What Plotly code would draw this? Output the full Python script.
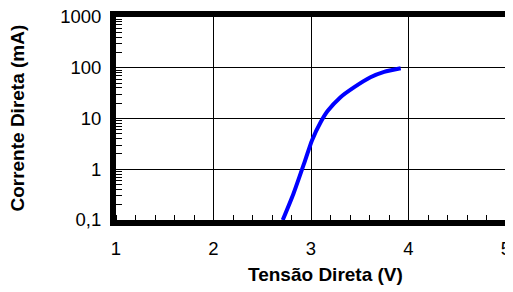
import plotly.graph_objects as go

# Data
voltage = [2.71, 2.82, 2.94, 3.01, 3.10, 3.17, 3.30, 3.44, 3.61, 3.75, 3.92]
current = [0.1, 0.33, 1.5, 3.7, 8.5, 14, 26, 41, 65, 83, 98]

x_ticks = [1, 2, 3, 4, 5]
x_tick_labels = ["1", "2", "3", "4", "5"]
y_ticks = [0.1, 1, 10, 100, 1000]
y_tick_labels = ["0,1", "1", "10", "100", "1000"]
y_minor_ticks = [m * d for d in [0.1, 1, 10, 100] for m in range(2, 10)]

x_title = "Tensão Direta (V)"
y_title = "Corrente Direta (mA)"

font_family = "Liberation Sans, Arial, sans-serif"

fig = go.Figure()
fig.add_trace(go.Scatter(
    x=voltage, y=current, mode="lines",
    line=dict(color="#0000FF", width=4, shape="spline", smoothing=0.6),
    showlegend=False, hoverinfo="skip",
))

# The page body has an 8px margin, so the figure is sized to fit the window
fig.update_layout(
    width=505, height=284,
    margin=dict(l=108, r=7, t=9, b=72),
    paper_bgcolor="white", plot_bgcolor="white",
    font=dict(family=font_family, size=18.5, color="#000000"),
    annotations=[
        dict(text="<b>" + x_title + "</b>", xref="paper", yref="paper",
             x=0.538, y=-0.27, xanchor="center", yanchor="middle",
             showarrow=False, font=dict(size=19)),
        dict(text="<b>" + y_title + "</b>", xref="paper", yref="paper",
             x=-0.2526, y=0.502, xanchor="center", yanchor="middle",
             textangle=-90, showarrow=False, font=dict(size=19)),
    ],
)

fig.update_xaxes(
    range=[1, 5], automargin=False,
    tickvals=x_ticks, ticktext=x_tick_labels,
    showgrid=True, gridcolor="black", gridwidth=1,
    showline=True, linecolor="black", linewidth=6, mirror=True,
    ticks="", ticklabelstandoff=7, ticklabeloverflow="allow",
    zeroline=False,
    minor=dict(ticks="inside", dtick=0.2, tick0=1, ticklen=5, tickcolor="black", tickwidth=1, showgrid=False),
)

fig.update_yaxes(
    type="log", range=[-1, 3], automargin=False,
    tickvals=y_ticks, ticktext=y_tick_labels,
    showgrid=True, gridcolor="black", gridwidth=1,
    showline=True, linecolor="black", linewidth=6, mirror=True,
    ticks="", ticklabelstandoff=5, ticklabeloverflow="allow",
    zeroline=False,
    minor=dict(ticks="inside", tickmode="array", tickvals=y_minor_ticks, ticklen=6,
               tickcolor="black", tickwidth=1, showgrid=False),
)

fig.write_html("out.html")
